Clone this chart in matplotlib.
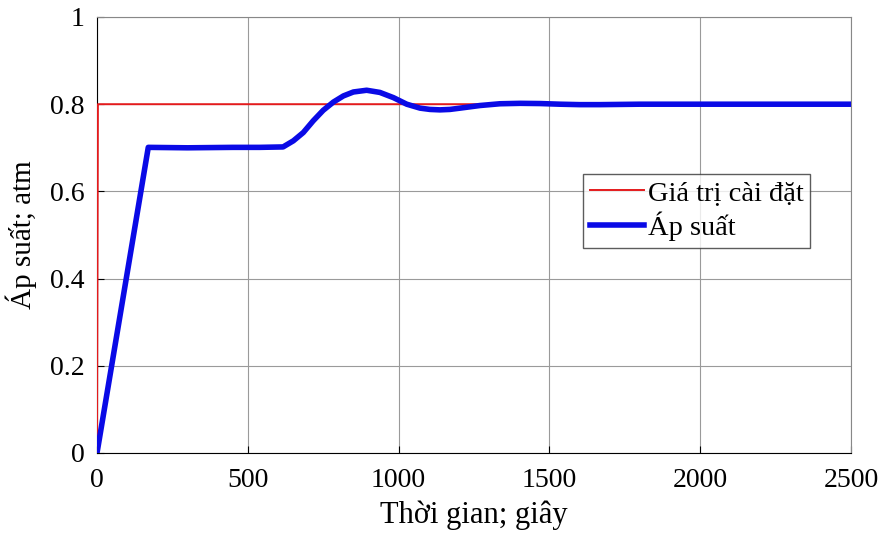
import matplotlib.pyplot as plt
from matplotlib.ticker import FuncFormatter

# setpoint (red) and measured pressure (blue), time in seconds
t_set = [0, 3, 2500]
p_set = [0, 0.8, 0.8]

t_meas = [0, 170, 300, 450, 540, 617, 651, 684, 717, 750, 784, 817, 850,
          894, 938, 983, 1027, 1071, 1104, 1137, 1170, 1204, 1237, 1270,
          1336, 1403, 1469, 1535, 1600, 1668, 1800, 2000, 2500]
p_meas = [0, 0.701, 0.700, 0.701, 0.701, 0.702, 0.716, 0.735, 0.762, 0.786,
          0.805, 0.819, 0.828, 0.832, 0.827, 0.815, 0.800, 0.791, 0.788,
          0.787, 0.788, 0.791, 0.794, 0.797, 0.801, 0.802, 0.8015, 0.800,
          0.799, 0.799, 0.800, 0.800, 0.800]

plt.rcParams['font.family'] = ['Liberation Serif', 'DejaVu Serif']

fig = plt.figure(figsize=(8.82, 5.34), dpi=100)
ax = fig.add_axes([97 / 882, 1 - 453 / 534, 754 / 882, 436 / 534])

ax.plot(t_set, p_set, color='#e41a1c', lw=1.4, label='Giá trị cài đặt', zorder=3)
ax.plot(t_meas, p_meas, color='#0a0ae6', lw=4.0, label='Áp suất', zorder=4,
        solid_joinstyle='round')

ax.set_xlim(0, 2500)
ax.set_ylim(0, 1)
ax.set_xticks(range(0, 2501, 500))
ax.set_yticks([0, 0.2, 0.4, 0.6, 0.8, 1])
ax.yaxis.set_major_formatter(FuncFormatter(lambda v, _: '%g' % v))
ax.tick_params(direction='in', labelsize=20, length=5, width=0.8)
ax.tick_params(axis='x', pad=11)
ax.tick_params(axis='y', pad=9)
ax.grid(True, color='#9a9a9a', lw=0.8)
ax.set_axisbelow(True)
for s in ['top', 'right']:
    ax.spines[s].set_color('#888888')
for s in ['left', 'bottom']:
    ax.spines[s].set_color('black')

ax.set_xlabel('Thời gian; giây', fontsize=22, labelpad=5)
ax.set_ylabel('Áp suất; atm', fontsize=21, labelpad=9)

leg = ax.legend(loc='upper left', bbox_to_anchor=(0.645, 0.64), fontsize=20.5,
                frameon=True, fancybox=False, edgecolor='#333333',
                borderpad=0.22, handlelength=1.9, handletextpad=0.15,
                labelspacing=0.2, borderaxespad=0)
leg.get_frame().set_linewidth(1.0)

fig.savefig('out.png', dpi=100)
